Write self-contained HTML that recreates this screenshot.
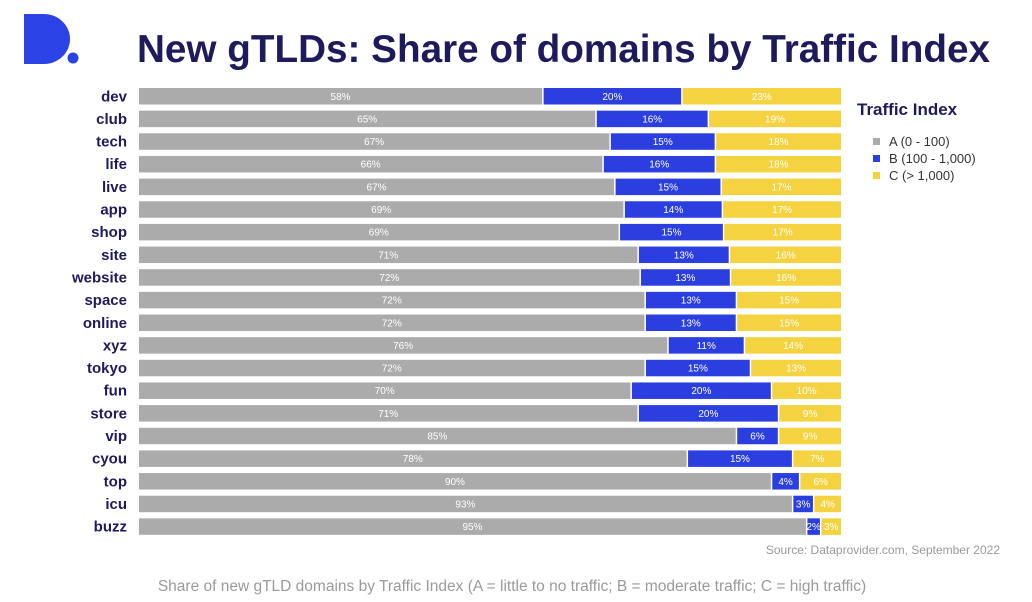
<!DOCTYPE html>
<html><head><meta charset="utf-8"><style>
body{margin:0;background:#fff;}
svg{display:block;font-family:"Liberation Sans",Arial,sans-serif;}
</style></head><body>
<svg id="chart" width="1032" height="602" viewBox="0 0 1032 602">
  <g>
    <path d="M24 14 H44 A26 25 0 0 1 44 64 H24 Z" fill="#2b43e6"/>
    <circle cx="73" cy="58" r="5.5" fill="#2b43e6"/>
  </g>
  <text x="137" y="62" font-size="39" font-weight="bold" fill="#1e1a5c" textLength="853" lengthAdjust="spacingAndGlyphs">New gTLDs: Share of domains by Traffic Index</text>
  <g id="bars"></g>
  <g>
    <text x="857" y="115" font-size="17" font-weight="bold" fill="#1e1a5c">Traffic Index</text>
    <rect x="873" y="138" width="7" height="7" fill="#ababab"/>
    <text x="889" y="146" font-size="13" fill="#333">A (0 - 100)</text>
    <rect x="873" y="155" width="7" height="7" fill="#2b3fe0"/>
    <text x="889" y="163" font-size="13" fill="#333">B (100 - 1,000)</text>
    <rect x="873" y="172" width="7" height="7" fill="#f4d240"/>
    <text x="889" y="180" font-size="13" fill="#333">C (&gt; 1,000)</text>
  </g>
  <text x="1000" y="554" font-size="12" fill="#999" text-anchor="end">Source: Dataprovider.com, September 2022</text>
  <text x="512" y="591" font-size="15.5" fill="#9a9a9a" text-anchor="middle">Share of new gTLD domains by Traffic Index (A = little to no traffic; B = moderate traffic; C = high traffic)</text>
</svg>
<script>
const categories=["dev","club","tech","life","live","app","shop","site","website","space","online","xyz","tokyo","fun","store","vip","cyou","top","icu","buzz"];
const seriesA=[58,65,67,66,67,69,69,71,72,72,72,76,72,70,71,85,78,90,93,95];
const seriesB=[20,16,15,16,15,14,15,13,13,13,13,11,15,20,20,6,15,4,3,2];
const seriesC=[23,19,18,18,17,17,17,16,16,15,15,14,13,10,9,9,7,6,4,3];
const colors=["#ababab","#2b3fe0","#f4d240"];
const NS="http://www.w3.org/2000/svg";
const x0=139,x1=841,y0=88,pitch=22.65,bh=16.5;
function yPos(i){return y0+i*pitch;}
function xScale(v,total){return v/total*(x1-x0);}
const g=document.getElementById('bars');
categories.forEach((cat,i)=>{
  const y=yPos(i);
  const lab=document.createElementNS(NS,'text');
  
  
  lab.setAttribute('x',127);lab.setAttribute('y',y+bh/2+5);
  lab.setAttribute('text-anchor','end');lab.setAttribute('font-size','15');
  lab.setAttribute('font-weight','bold');lab.setAttribute('fill','#1e1a5c');
  lab.textContent=cat;g.appendChild(lab);
  const vals=[seriesA[i],seriesB[i],seriesC[i]];
  const total=vals[0]+vals[1]+vals[2];
  let x=x0;
  vals.forEach((v,k)=>{
    const w=xScale(v,total);
    const r=document.createElementNS(NS,'rect');
    
    
    r.setAttribute('x',x+(k?1.5:0));r.setAttribute('y',y);
    r.setAttribute('width',Math.max(0,w-(k?1.5:0)));r.setAttribute('height',bh);
    r.setAttribute('fill',colors[k]);g.appendChild(r);
    const t=document.createElementNS(NS,'text');
    
    
    t.setAttribute('x',x+w/2+(k?0.75:0));t.setAttribute('y',y+bh/2+3.5);
    t.setAttribute('text-anchor','middle');t.setAttribute('font-size','10');
    t.setAttribute('fill','#fff');
    t.textContent=v+'%';g.appendChild(t);
    x+=w;
  });
});
</script>
</body></html>
